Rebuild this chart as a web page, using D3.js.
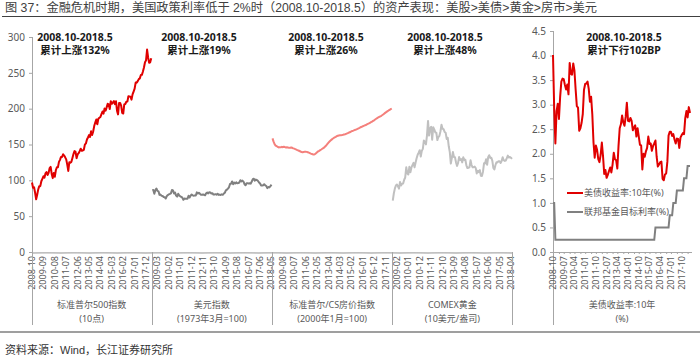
<!DOCTYPE html>
<html><head><meta charset="utf-8">
<script src="https://cdn.jsdelivr.net/npm/d3@7"></script>
<style>
html,body{margin:0;padding:0;background:#fff;}
svg{display:block;font-family:"Noto Sans","Noto Sans CJK SC",sans-serif;}
</style></head>
<body><svg id="c" width="700" height="359"></svg>
<script>
// ---------- DATA ----------
const months = d3.timeMonth.range(new Date(2008,9,1), new Date(2018,5,1)).map(d3.timeFormat("%Y-%m"));
const panelNames = ["标准普尔500指数","美元指数","标准普尔/CS房价指数","COMEX黄金"];
const panelUnits = ["(10点)","(1973年3月=100)","(2000年1月=100)","(10美元/盎司)"];
const panelNotes = ["累计上涨132%","累计上涨19%","累计上涨26%","累计上涨48%"];
const periodText = "2008.10-2018.5";
const rightName = "美债收益率:10年", rightUnit = "(%)", rightNote = "累计下行102BP";
const legendNames = ["美债收益率:10年(%)","联邦基金目标利率(%)"];
const leftTicks = [0,50,100,150,200,250,300];
const rightTicks = [0,0.5,1,1.5,2,2.5,3,3.5,4,4.5];

const spx = [96.9,89.6,90.3,
82.6,73.5,79.8,87.3,91.9,91.9,98.7,102.1,105.7,103.6,109.6,111.5,
107.4,110.4,116.9,118.7,108.9,103.1,110.2,104.9,114.1,118.3,118.1,125.8,
128.6,132.7,132.6,136.4,134.5,132.1,129.2,121.9,113.1,125.3,124.7,125.8,
131.2,136.6,140.8,139.8,131.0,136.2,137.9,140.7,144.1,141.2,141.6,142.6,
149.8,151.5,156.9,159.8,163.1,160.6,168.6,163.3,168.2,175.7,180.6,184.8,
178.3,185.9,187.2,188.4,192.4,196.0,193.1,200.3,197.2,201.8,206.8,205.9,
199.5,210.5,206.8,208.6,210.7,206.3,210.4,197.2,192.0,207.9,208.0,204.4,
194.0,193.2,206.0,206.5,209.7,209.9,217.4,217.1,216.8,212.6,219.9,223.9,
227.9,236.4,236.3,238.4,241.2,242.3,247.0,247.2,251.9,257.5,264.8,267.4,
282.4,271.4,264.1,264.8,270.5];

const usd = [86.0,86.5,81.3,
86.3,88.6,85.4,84.7,79.7,80.1,78.4,78.2,76.7,76.5,74.6,77.9,
79.5,80.3,81.0,81.8,86.6,86.0,81.6,83.1,78.7,77.3,81.3,79.0,
77.7,76.9,75.9,72.9,74.6,74.3,74.2,74.4,78.5,76.0,78.6,80.2,
79.0,78.6,79.0,78.8,83.2,81.6,82.7,81.2,79.9,79.8,80.2,79.8,
79.2,82.0,83.0,81.7,83.4,83.2,81.5,82.1,80.2,80.2,80.7,80.0,
81.3,79.7,80.1,79.5,80.4,79.8,81.5,82.7,86.0,86.9,88.4,90.3,
94.8,95.3,98.4,94.6,96.9,95.5,97.3,95.8,96.3,97.0,100.2,98.6,
99.6,98.2,94.6,93.1,95.9,96.1,95.5,96.0,95.4,98.4,101.5,102.2,
99.5,101.1,100.4,99.1,97.0,95.6,92.9,92.7,93.1,94.6,93.0,92.1,
89.1,90.6,90.1,91.8,94.0];

const csHpi = [158.5,154.0,150.5,
148.5,147.6,146.8,145.9,146.3,146.0,146.7,146.2,146.9,146.4,145.8,146.2,
145.7,145.3,145.6,145.9,145.4,144.6,144.2,143.5,142.9,142.2,141.6,140.9,
140.2,139.5,139.2,139.6,139.8,139.9,139.7,139.2,138.6,138.0,137.3,136.8,
136.2,136.0,136.6,137.9,139.2,140.4,141.2,142.1,143.0,144.0,145.0,146.0,
147.5,149.0,150.8,152.6,154.2,155.6,156.8,158.0,159.0,160.0,160.7,161.6,
162.2,162.6,162.8,163.0,163.2,163.5,163.9,164.3,164.9,165.5,166.1,166.8,
167.4,168.2,168.9,169.4,170.0,170.6,171.2,171.9,172.6,173.3,174.1,174.7,
175.4,176.0,176.6,177.2,178.0,178.8,179.4,180.3,181.1,181.9,182.9,183.8,
184.9,185.9,186.9,187.7,188.5,189.3,190.1,191.1,192.2,193.4,194.5,195.5,
196.5,197.5,198.4,199.3,200.2];

const gold = [71.8,81.6,88.4,
92.8,94.2,91.6,88.4,97.8,92.7,95.3,95.5,100.8,104.0,118.2,109.7,
108.1,118.8,111.3,118.0,121.2,124.4,118.1,124.8,130.7,135.7,138.6,142.1,
133.2,141.1,143.9,155.6,153.6,150.2,162.8,182.9,162.4,172.5,174.6,156.6,
174.0,171.1,166.9,166.4,156.2,160.4,162.2,168.5,177.6,171.9,171.4,167.5,
166.4,157.8,159.5,147.5,139.3,123.4,131.3,139.6,132.6,132.3,125.0,120.2,
124.4,132.6,128.4,129.6,125.0,132.2,128.5,128.7,121.0,117.1,117.5,118.4,
127.9,121.3,118.3,118.4,119.1,117.2,109.5,113.5,111.4,114.2,106.4,106.0,
111.8,123.8,123.4,129.3,121.7,132.2,135.1,131.2,131.6,127.5,117.3,115.2,
121.1,125.3,124.9,126.8,126.8,124.2,126.9,132.2,128.0,127.1,127.7,130.9,
134.5,131.8,132.7,131.5,130.0];

const ust10y = [4.01,2.92,2.21,
2.87,3.02,2.71,3.16,3.47,3.53,3.52,3.40,3.31,3.41,3.21,3.85,
3.63,3.61,3.84,3.69,3.31,2.97,2.94,2.47,2.52,2.63,2.81,3.30,
3.42,3.43,3.47,3.32,3.06,3.16,2.80,2.23,1.92,2.17,2.08,1.89,
1.83,1.98,2.23,1.95,1.59,1.67,1.51,1.57,1.65,1.72,1.62,1.78,
2.02,1.89,1.87,1.70,2.16,2.52,2.60,2.78,2.64,2.57,2.75,3.04,
2.67,2.66,2.73,2.67,2.48,2.53,2.58,2.35,2.52,2.35,2.18,2.17,
1.68,2.00,1.94,2.05,2.12,2.35,2.20,2.21,2.06,2.16,2.21,2.27,
1.94,1.74,1.78,1.83,1.84,1.49,1.46,1.58,1.60,1.84,2.37,2.45,
2.45,2.36,2.40,2.29,2.21,2.31,2.30,2.12,2.33,2.38,2.42,2.40,
2.72,2.87,2.74,2.95,2.83];

const fedFunds = [1.00,1.00,0.25,
0.25,0.25,0.25,0.25,0.25,0.25,0.25,0.25,0.25,0.25,0.25,0.25,
0.25,0.25,0.25,0.25,0.25,0.25,0.25,0.25,0.25,0.25,0.25,0.25,
0.25,0.25,0.25,0.25,0.25,0.25,0.25,0.25,0.25,0.25,0.25,0.25,
0.25,0.25,0.25,0.25,0.25,0.25,0.25,0.25,0.25,0.25,0.25,0.25,
0.25,0.25,0.25,0.25,0.25,0.25,0.25,0.25,0.25,0.25,0.25,0.25,
0.25,0.25,0.25,0.25,0.25,0.25,0.25,0.25,0.25,0.25,0.25,0.25,
0.25,0.25,0.25,0.25,0.25,0.25,0.25,0.25,0.25,0.25,0.25,0.50,
0.50,0.50,0.50,0.50,0.50,0.50,0.50,0.50,0.50,0.50,0.50,0.75,
0.75,0.75,1.00,1.00,1.00,1.25,1.25,1.25,1.25,1.25,1.25,1.50,
1.50,1.50,1.75,1.75,1.75];

const panelSeries = [spx, usd, csHpi, gold];
const panelColors = ["#e00000","#808080","#f4807c","#c0c0c0"];

// ---------- CHART ----------
const svg = d3.select("#c");
const N = months.length;               // 116
const NL = N * 4;                      // 464
const x0 = 32, x1 = 512, yTop = 37, yBase = 252, yBottom = 325;
const xL = d3.scaleLinear().domain([0, NL - 1]).range([x0, x1]);
const yL = d3.scaleLinear().domain([0, 300]).range([yBase, yTop]);
const xR = d3.scaleLinear().domain([0, N - 1]).range([553, 690]);
const yR = d3.scaleLinear().domain([0, 4.5]).range([yBase, 31]);

const txt = "#595959", axisCol = "#a6a6a6";

// title
svg.append("text").attr("x", 5).attr("y", 12)
  .attr("font-family", "'Liberation Sans','Noto Sans CJK SC',sans-serif")
  .attr("font-size", 12).attr("fill", "#404040")
  .attr("textLength", 592).attr("lengthAdjust", "spacingAndGlyphs")
  .text("图 37：金融危机时期，美国政策利率低于 2%时（2008.10-2018.5）的资产表现：美股>美债>黄金>房市>美元");
svg.append("line").attr("x1", 2).attr("x2", 700).attr("y1", 16.5).attr("y2", 16.5)
  .attr("stroke", "#404040").attr("stroke-width", 1);

// left y axis
const gYL = svg.append("g").attr("transform", `translate(${x0},0)`)
  .call(d3.axisLeft(yL).tickValues(leftTicks).tickSize(3).tickPadding(4));
gYL.select(".domain").remove();
gYL.selectAll(".tick line").attr("stroke", axisCol);
gYL.selectAll(".tick text").attr("fill", txt).attr("font-size", 10).attr("font-family", "'Noto Sans',sans-serif");

// left x axis (minor ticks each category)
const gXL = svg.append("g").attr("transform", `translate(0,${yBase})`)
  .call(d3.axisBottom(xL).tickValues(d3.range(NL)).tickSize(2).tickFormat(""));
gXL.select(".domain").attr("stroke", axisCol).attr("d", `M${x0},0.5H${x1}`);
gXL.selectAll(".tick line").attr("stroke", "#c8c8c8");

// left tick labels every 11 categories
const labIdx = d3.range(0, NL, 11);
svg.append("g").selectAll("text").data(labIdx).join("text")
  .attr("transform", d => `translate(${xL(d) + 3},${yBase + 4}) rotate(-90)`)
  .attr("text-anchor", "end").attr("font-size", 9).attr("fill", txt)
  .text(d => months[d % N]);

// separators
[0,1,2,3,4].forEach(k => {
  const xx = k === 0 ? x0 : (k === 4 ? x1 : xL(k * N - 0.5));
  svg.append("line").attr("x1", Math.round(xx) + 0.5).attr("x2", Math.round(xx) + 0.5)
    .attr("y1", k === 0 ? yTop : yBase).attr("y2", yBottom)
    .attr("stroke", axisCol).attr("stroke-width", 1);
});

// panel lines
panelSeries.forEach((s, k) => {
  const line = d3.line().x((d, i) => xL(k * N + i)).y(d => yL(d));
  svg.append("path").datum(s).attr("d", line).attr("fill", "none")
    .attr("stroke", panelColors[k]).attr("stroke-width", 2).attr("stroke-linejoin", "round");
});

// panel annotations and group labels
const noteX = [75, 199, 326, 445];
panelNotes.forEach((n, k) => {
  svg.append("text").attr("x", noteX[k]).attr("y", 41).attr("text-anchor", "middle")
    .attr("font-size", 10.5).attr("font-weight", "bold").attr("fill", "#1a1a1a").text(periodText);
  svg.append("text").attr("x", noteX[k]).attr("y", 54).attr("text-anchor", "middle")
    .attr("font-size", 10.5).attr("font-weight", "bold").attr("fill", "#1a1a1a").text(n);
  const cx = (xL(k * N) + xL(k * N + N - 1)) / 2;
  svg.append("text").attr("x", cx).attr("y", 308).attr("text-anchor", "middle")
    .attr("font-size", 9).attr("fill", txt).text(panelNames[k]);
  svg.append("text").attr("x", cx).attr("y", 322).attr("text-anchor", "middle")
    .attr("font-size", 9).attr("fill", txt).text(panelUnits[k]);
});

// right panel axes
const gYR = svg.append("g").attr("transform", `translate(553,0)`)
  .call(d3.axisLeft(yR).tickValues(rightTicks).tickFormat(d3.format(".1f")).tickSize(3).tickPadding(4));
gYR.select(".domain").remove();
gYR.selectAll(".tick line").attr("stroke", axisCol);
gYR.selectAll(".tick text").attr("fill", txt).attr("font-size", 10).attr("font-family", "'Noto Sans',sans-serif");
svg.append("line").attr("x1", 553.5).attr("x2", 553.5).attr("y1", 31).attr("y2", yBottom)
  .attr("stroke", axisCol);

const gXR = svg.append("g").attr("transform", `translate(0,${yBase})`)
  .call(d3.axisBottom(xR).tickValues(d3.range(0, N, 4.5).map(Math.round)).tickSize(2).tickFormat(""));
gXR.select(".domain").attr("stroke", axisCol).attr("d", `M553,0.5H${xR(N - 1) + 2}`);
gXR.selectAll(".tick line").attr("stroke", "#a6a6a6");

svg.append("g").selectAll("text").data(d3.range(0, N, 9)).join("text")
  .attr("transform", d => `translate(${xR(d) + 3},${yBase + 4}) rotate(-90)`)
  .attr("text-anchor", "end").attr("font-size", 9).attr("fill", txt)
  .text(d => months[d]);

svg.append("path").datum(ust10y)
  .attr("d", d3.line().x((d, i) => xR(i)).y(d => yR(d)))
  .attr("fill", "none").attr("stroke", "#e00000").attr("stroke-width", 2).attr("stroke-linejoin", "round");
svg.append("path").datum(fedFunds)
  .attr("d", d3.line().x((d, i) => xR(i)).y(d => yR(d)))
  .attr("fill", "none").attr("stroke", "#808080").attr("stroke-width", 2);

svg.append("text").attr("x", 624).attr("y", 41).attr("text-anchor", "middle")
  .attr("font-size", 10.5).attr("font-weight", "bold").attr("fill", "#1a1a1a").text(periodText);
svg.append("text").attr("x", 624).attr("y", 54).attr("text-anchor", "middle")
  .attr("font-size", 10.5).attr("font-weight", "bold").attr("fill", "#1a1a1a").text(rightNote);
svg.append("text").attr("x", 622).attr("y", 308).attr("text-anchor", "middle")
  .attr("font-size", 9).attr("fill", txt).text(rightName);
svg.append("text").attr("x", 622).attr("y", 322).attr("text-anchor", "middle")
  .attr("font-size", 9).attr("fill", txt).text(rightUnit);

// legend
const legCols = ["#e00000", "#808080"];
legendNames.forEach((n, i) => {
  const ly = 193 + i * 19;
  svg.append("line").attr("x1", 567).attr("x2", 583).attr("y1", ly).attr("y2", ly)
    .attr("stroke", legCols[i]).attr("stroke-width", 2);
  svg.append("text").attr("x", 584).attr("y", ly).attr("dy", "0.35em")
    .attr("font-size", 9).attr("fill", txt).text(n);
});

// bottom rule and source
svg.append("line").attr("x1", 0).attr("x2", 700).attr("y1", 332).attr("y2", 332)
  .attr("stroke", "#7f7f7f").attr("stroke-width", 1.5);
svg.append("text").attr("x", 5).attr("y", 354).attr("font-size", 11).attr("fill", "#333")
  .attr("font-family", "'Liberation Sans','Noto Sans CJK SC',sans-serif")
  .text("资料来源：Wind，长江证券研究所");
</script></body></html>
